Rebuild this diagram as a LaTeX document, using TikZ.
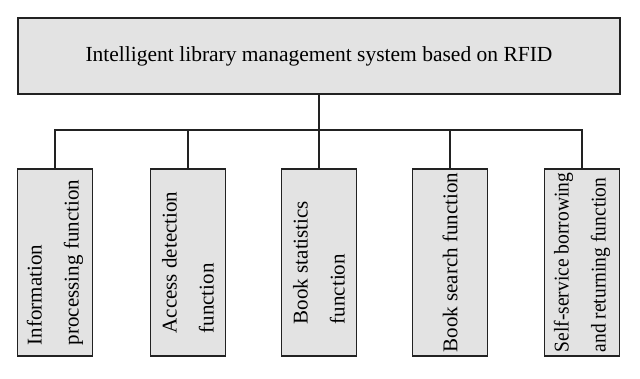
\documentclass[tikz,border=0pt]{standalone}
\usepackage{fontspec}
\setmainfont{Liberation Serif}
\definecolor{boxgray}{HTML}{E3E3E3}
\definecolor{edge}{HTML}{222222}
\begin{document}
\begin{tikzpicture}[x=1pt,y=-1pt,
  box/.style={draw=edge, line width=1.8pt, fill=boxgray, inner sep=0pt},
  childbox/.style={box, rotate=90, minimum width=187pt, minimum height=75pt,
    font=\fontsize{21pt}{37pt}\selectfont, align=left},
  conn/.style={draw=edge, line width=1.8pt}]
\useasboundingbox (0,0) rectangle (640,378);
\node[box, minimum width=602pt, minimum height=76pt,
  font=\fontsize{21.5pt}{25pt}\selectfont] (top) at (319,56)
  {Intelligent library management system based on RFID};
\coordinate (hub) at (319,130);
\node[childbox] (b1) at (55,262.5) {Information\\processing function};
\node[childbox] (b2) at (188,262.5) {Access detection\\function};
\node[childbox] (b3) at (319,262.5) {Book statistics\\function};
\node[childbox] (b4) at (450,262.5) {Book search function};
\node[childbox] (b5) at (582,262.5)
  {\scalebox{0.93}[1]{Self-service borrowing}\\\scalebox{0.93}[1]{and returning function}};
\draw[conn] (top.south) -- (hub);
\foreach \i in {1,...,5} \draw[conn] (hub) -| (b\i.east);
\end{tikzpicture}
\end{document}
